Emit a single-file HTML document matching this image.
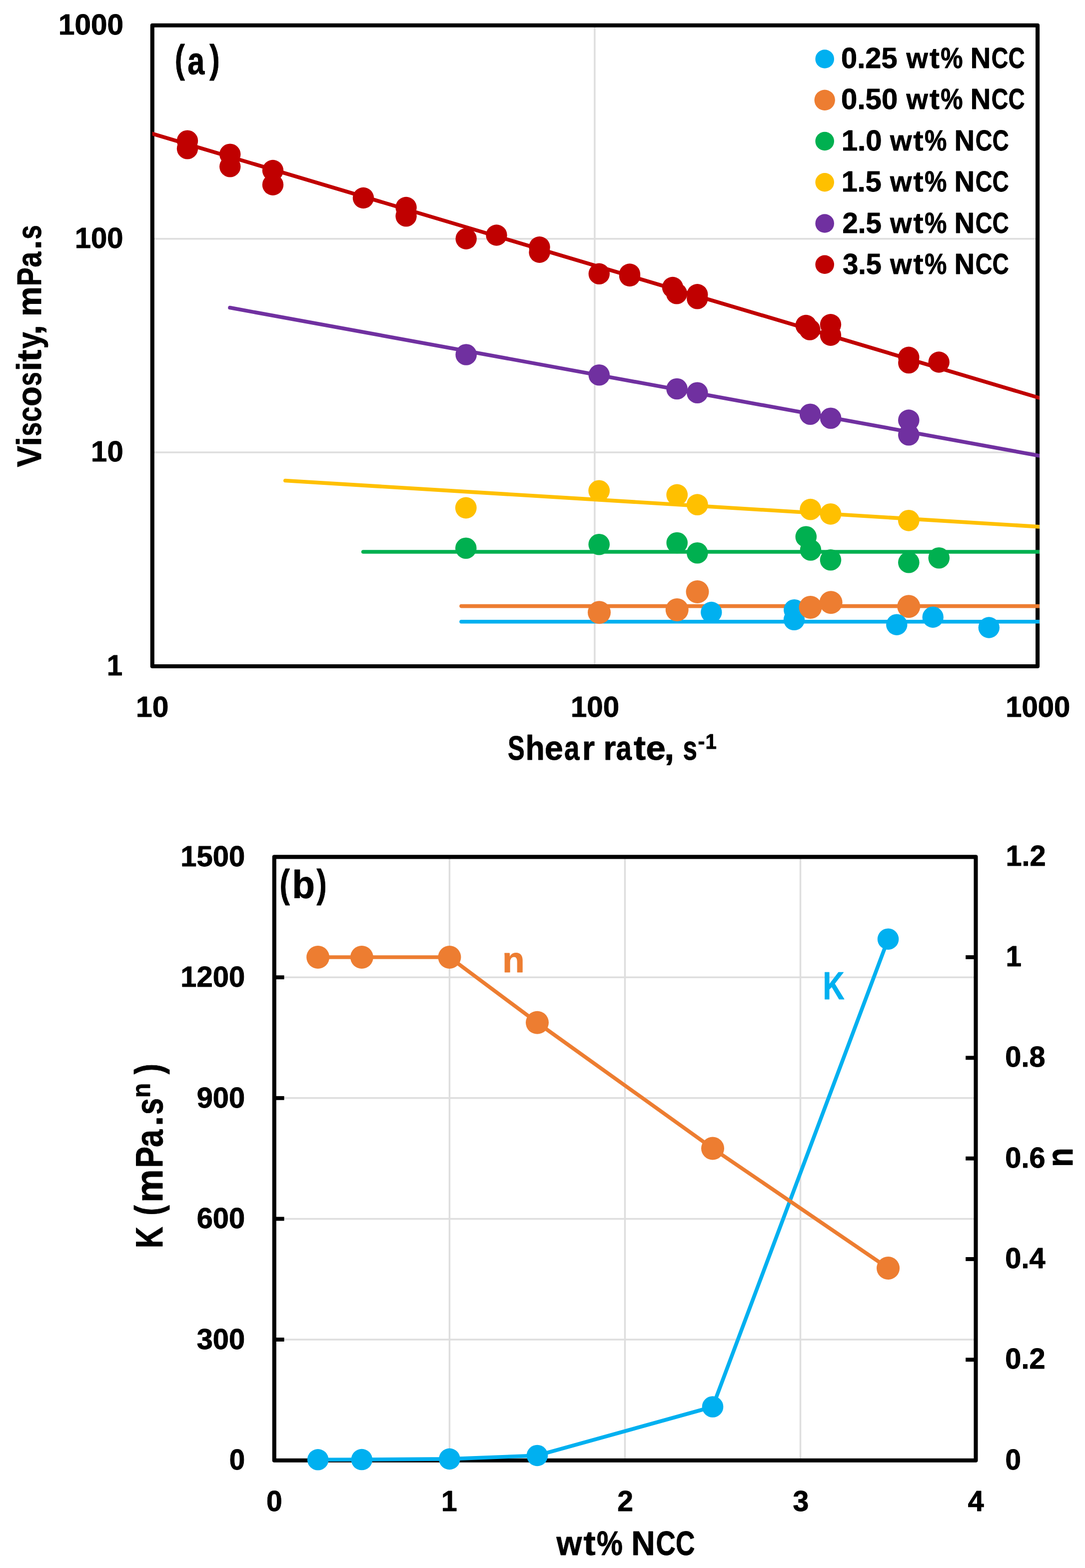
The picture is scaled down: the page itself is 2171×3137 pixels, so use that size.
<!DOCTYPE html>
<html lang="en">
<head>
<meta charset="utf-8">
<title>Figure</title>
<style>
html,body{margin:0;padding:0;background:#fff;}
body{width:2171px;height:3137px;overflow:hidden;}
svg{display:block;}
text{font-family:"Liberation Sans", sans-serif;font-weight:bold;white-space:pre;stroke-width:0.9px;stroke-linejoin:round;}
</style>
</head>
<body>
<svg width="2171" height="3137" viewBox="0 0 2171 3137">
<rect width="2171" height="3137" fill="#fff"/>
<defs><clipPath id="clipA"><rect x="304.8" y="0" width="1775.1" height="1400"/></clipPath></defs>
<g id="chart-a">
<g stroke="#DEDEDE" stroke-width="3.5" fill="none">
<line x1="1189.9" y1="50.8" x2="1189.9" y2="1333"/>
<line x1="304.8" y1="477.8" x2="2076.1" y2="477.8"/>
<line x1="304.8" y1="905" x2="2076.1" y2="905"/>
</g>
<rect x="304.8" y="50.8" width="1771.3" height="1282.2" fill="none" stroke="#000" stroke-width="8.1" stroke-linejoin="round"/>
<g fill="none" stroke-width="7.6" stroke-linecap="round" clip-path="url(#clipA)">
<line x1="923" y1="1243.7" x2="2088.1" y2="1243.7" stroke="#00B0F0"/>
<line x1="923" y1="1212.6" x2="2088.1" y2="1212.6" stroke="#ED7D31"/>
<line x1="726.7" y1="1104" x2="2088.1" y2="1104" stroke="#00B050"/>
<line x1="570.8" y1="961.5" x2="2088.1" y2="1054.33" stroke="#FFC000"/>
<line x1="460" y1="615.6" x2="2088.1" y2="913.29" stroke="#7030A0"/>
<line x1="292.8" y1="263.93" x2="2088.1" y2="798.57" stroke="#C00000"/>
</g>
<g fill="#00B0F0"><circle cx="1589.3" cy="1220.2" r="21.2"/><circle cx="1589" cy="1239.9" r="21.2"/></g>
<g fill="#ED7D31"><circle cx="1199" cy="1225.2" r="23"/><circle cx="1354.7" cy="1220" r="23"/><circle cx="1395.5" cy="1184" r="23"/><circle cx="1621.6" cy="1215" r="23"/><circle cx="1662.6" cy="1205.2" r="23"/><circle cx="1818.3" cy="1213.3" r="23"/></g>
<g fill="#00B0F0"><circle cx="1423.3" cy="1225" r="21.2"/><circle cx="1794.3" cy="1249.7" r="21.2"/><circle cx="1866.7" cy="1234.7" r="21.2"/><circle cx="1978.8" cy="1255.5" r="21.2"/></g>
<g fill="#00B050"><circle cx="932.3" cy="1096.7" r="21.3"/><circle cx="1198.7" cy="1089.2" r="21.3"/><circle cx="1354.7" cy="1086" r="21.3"/><circle cx="1395.3" cy="1106.3" r="21.3"/><circle cx="1612.8" cy="1073.8" r="21.3"/><circle cx="1622" cy="1100.5" r="21.3"/><circle cx="1662" cy="1120.3" r="21.3"/><circle cx="1818.3" cy="1125.3" r="21.3"/><circle cx="1878.8" cy="1116.3" r="21.3"/></g>
<g fill="#FFC000"><circle cx="932.3" cy="1016" r="21.4"/><circle cx="1198.7" cy="981.8" r="21.4"/><circle cx="1354.7" cy="990" r="21.4"/><circle cx="1395.3" cy="1009.7" r="21.4"/><circle cx="1621.7" cy="1019.2" r="21.4"/><circle cx="1662" cy="1028.3" r="21.4"/><circle cx="1818.3" cy="1041.3" r="21.4"/></g>
<g fill="#7030A0"><circle cx="932.7" cy="709.5" r="21.3"/><circle cx="1198.8" cy="750.3" r="21.3"/><circle cx="1354.5" cy="778" r="21.3"/><circle cx="1395.3" cy="785.8" r="21.3"/><circle cx="1621.2" cy="828.7" r="21.3"/><circle cx="1662.2" cy="836.7" r="21.3"/><circle cx="1818.3" cy="840.6" r="21.3"/><circle cx="1818.3" cy="870.2" r="21.3"/></g>
<g fill="#C00000"><circle cx="375" cy="281.7" r="21.2"/><circle cx="375" cy="297.3" r="21.2"/><circle cx="460.3" cy="308.7" r="21.2"/><circle cx="460.3" cy="333.3" r="21.2"/><circle cx="546" cy="341" r="21.2"/><circle cx="546" cy="369.7" r="21.2"/><circle cx="727" cy="396" r="21.2"/><circle cx="812.6" cy="415" r="21.2"/><circle cx="812.6" cy="432.3" r="21.2"/><circle cx="932.7" cy="477.7" r="21.2"/><circle cx="993.5" cy="470.5" r="21.2"/><circle cx="1079.5" cy="494.3" r="21.2"/><circle cx="1079.5" cy="504.7" r="21.2"/><circle cx="1198.8" cy="547.8" r="21.2"/><circle cx="1260" cy="548.5" r="21.2"/><circle cx="1260" cy="552" r="21.2"/><circle cx="1346" cy="575" r="21.2"/><circle cx="1354" cy="587.3" r="21.2"/><circle cx="1395.3" cy="589.3" r="21.2"/><circle cx="1395.3" cy="597.3" r="21.2"/><circle cx="1612.7" cy="651" r="21.2"/><circle cx="1620.3" cy="659.6" r="21.2"/><circle cx="1662" cy="649.3" r="21.2"/><circle cx="1662" cy="670.7" r="21.2"/><circle cx="1818.3" cy="714.8" r="21.2"/><circle cx="1818.3" cy="726.1" r="21.2"/><circle cx="1878.7" cy="724.5" r="21.2"/></g>
<circle cx="1650.2" cy="118" r="18.8" fill="#00B0F0"/>
<text fill="#000" stroke="#000"><tspan x="1683.14" y="135.75" font-size="56.67" textLength="112.38" lengthAdjust="spacingAndGlyphs">0.25</tspan> <tspan x="1813.49" y="135.75" font-size="56.67" textLength="43.33" lengthAdjust="spacingAndGlyphs">w</tspan><tspan x="1860" y="135.75" font-size="56.67" textLength="19.87" lengthAdjust="spacingAndGlyphs">t</tspan><tspan x="1882.34" y="135.75" font-size="56.67" textLength="44.28" lengthAdjust="spacingAndGlyphs">%</tspan> <tspan x="1941.74" y="135.75" font-size="56.67" textLength="40.43" lengthAdjust="spacingAndGlyphs">N</tspan><tspan x="1983.87" y="135.75" font-size="56.67" textLength="33.53" lengthAdjust="spacingAndGlyphs">C</tspan><tspan x="2017.71" y="135.75" font-size="56.67" textLength="32.78" lengthAdjust="spacingAndGlyphs">C</tspan></text>
<circle cx="1650.2" cy="200.25" r="20.7" fill="#ED7D31"/>
<text fill="#000" stroke="#000"><tspan x="1683.13" y="218.25" font-size="56.67" textLength="113.13" lengthAdjust="spacingAndGlyphs">0.50</tspan> <tspan x="1813.49" y="218.25" font-size="56.67" textLength="43.33" lengthAdjust="spacingAndGlyphs">w</tspan><tspan x="1860" y="218.25" font-size="56.67" textLength="19.87" lengthAdjust="spacingAndGlyphs">t</tspan><tspan x="1882.34" y="218.25" font-size="56.67" textLength="44.28" lengthAdjust="spacingAndGlyphs">%</tspan> <tspan x="1941.74" y="218.25" font-size="56.67" textLength="40.43" lengthAdjust="spacingAndGlyphs">N</tspan><tspan x="1983.87" y="218.25" font-size="56.67" textLength="33.53" lengthAdjust="spacingAndGlyphs">C</tspan><tspan x="2017.71" y="218.25" font-size="56.67" textLength="32.78" lengthAdjust="spacingAndGlyphs">C</tspan></text>
<circle cx="1650.2" cy="282.5" r="18.8" fill="#00B050"/>
<text fill="#000" stroke="#000"><tspan x="1683.82" y="300.75" font-size="56.67" textLength="80.77" lengthAdjust="spacingAndGlyphs">1.0</tspan> <tspan x="1780.89" y="300.75" font-size="56.67" textLength="43.48" lengthAdjust="spacingAndGlyphs">w</tspan><tspan x="1827.59" y="300.75" font-size="56.67" textLength="19.87" lengthAdjust="spacingAndGlyphs">t</tspan><tspan x="1849.97" y="300.75" font-size="56.67" textLength="44.43" lengthAdjust="spacingAndGlyphs">%</tspan> <tspan x="1909.58" y="300.75" font-size="56.67" textLength="40.57" lengthAdjust="spacingAndGlyphs">N</tspan><tspan x="1951.85" y="300.75" font-size="56.67" textLength="33.65" lengthAdjust="spacingAndGlyphs">C</tspan><tspan x="1985.8" y="300.75" font-size="56.67" textLength="32.89" lengthAdjust="spacingAndGlyphs">C</tspan></text>
<circle cx="1650.2" cy="364.75" r="18.8" fill="#FFC000"/>
<text fill="#000" stroke="#000"><tspan x="1683.85" y="383.25" font-size="56.67" textLength="79.99" lengthAdjust="spacingAndGlyphs">1.5</tspan> <tspan x="1780.89" y="383.25" font-size="56.67" textLength="43.48" lengthAdjust="spacingAndGlyphs">w</tspan><tspan x="1827.59" y="383.25" font-size="56.67" textLength="19.87" lengthAdjust="spacingAndGlyphs">t</tspan><tspan x="1849.97" y="383.25" font-size="56.67" textLength="44.43" lengthAdjust="spacingAndGlyphs">%</tspan> <tspan x="1909.58" y="383.25" font-size="56.67" textLength="40.57" lengthAdjust="spacingAndGlyphs">N</tspan><tspan x="1951.85" y="383.25" font-size="56.67" textLength="33.65" lengthAdjust="spacingAndGlyphs">C</tspan><tspan x="1985.8" y="383.25" font-size="56.67" textLength="32.89" lengthAdjust="spacingAndGlyphs">C</tspan></text>
<circle cx="1650.2" cy="447" r="18.8" fill="#7030A0"/>
<text fill="#000" stroke="#000"><tspan x="1685.48" y="465.75" font-size="56.67" textLength="78.33" lengthAdjust="spacingAndGlyphs">2.5</tspan> <tspan x="1780.89" y="465.75" font-size="56.67" textLength="43.48" lengthAdjust="spacingAndGlyphs">w</tspan><tspan x="1827.59" y="465.75" font-size="56.67" textLength="19.87" lengthAdjust="spacingAndGlyphs">t</tspan><tspan x="1849.97" y="465.75" font-size="56.67" textLength="44.43" lengthAdjust="spacingAndGlyphs">%</tspan> <tspan x="1909.58" y="465.75" font-size="56.67" textLength="40.57" lengthAdjust="spacingAndGlyphs">N</tspan><tspan x="1951.85" y="465.75" font-size="56.67" textLength="33.65" lengthAdjust="spacingAndGlyphs">C</tspan><tspan x="1985.8" y="465.75" font-size="56.67" textLength="32.89" lengthAdjust="spacingAndGlyphs">C</tspan></text>
<circle cx="1650.2" cy="529.25" r="18.8" fill="#C00000"/>
<text fill="#000" stroke="#000"><tspan x="1686.19" y="548.25" font-size="56.67" textLength="77.6" lengthAdjust="spacingAndGlyphs">3.5</tspan> <tspan x="1780.89" y="548.25" font-size="56.67" textLength="43.48" lengthAdjust="spacingAndGlyphs">w</tspan><tspan x="1827.59" y="548.25" font-size="56.67" textLength="19.87" lengthAdjust="spacingAndGlyphs">t</tspan><tspan x="1849.97" y="548.25" font-size="56.67" textLength="44.43" lengthAdjust="spacingAndGlyphs">%</tspan> <tspan x="1909.58" y="548.25" font-size="56.67" textLength="40.57" lengthAdjust="spacingAndGlyphs">N</tspan><tspan x="1951.85" y="548.25" font-size="56.67" textLength="33.65" lengthAdjust="spacingAndGlyphs">C</tspan><tspan x="1985.8" y="548.25" font-size="56.67" textLength="32.89" lengthAdjust="spacingAndGlyphs">C</tspan></text>
<text fill="#000" stroke="#000"><tspan x="349.73" y="144.95" font-size="77.67" textLength="20.1" lengthAdjust="spacingAndGlyphs">(</tspan><tspan x="375.31" y="147.75" font-size="76.38" textLength="34.05" lengthAdjust="spacingAndGlyphs">a</tspan><tspan x="419.3" y="144.95" font-size="77.67" textLength="20.58" lengthAdjust="spacingAndGlyphs">)</tspan></text>
<text fill="#000" stroke="#000"><tspan x="117.1" y="68.75" font-size="56.67" textLength="130.02" lengthAdjust="spacingAndGlyphs">1000</tspan></text>
<text fill="#000" stroke="#000"><tspan x="149.82" y="495.85" font-size="56.67" textLength="96.81" lengthAdjust="spacingAndGlyphs">100</tspan></text>
<text fill="#000" stroke="#000"><tspan x="182.12" y="923.45" font-size="56.67" textLength="64.59" lengthAdjust="spacingAndGlyphs">10</tspan></text>
<text fill="#000" stroke="#000"><tspan x="213.82" y="1351.15" font-size="56.67" textLength="31.46" lengthAdjust="spacingAndGlyphs">1</tspan></text>
<text fill="#000" stroke="#000"><tspan x="271.98" y="1433.75" font-size="56.67" textLength="65.36" lengthAdjust="spacingAndGlyphs">10</tspan></text>
<text fill="#000" stroke="#000"><tspan x="1141.91" y="1433.75" font-size="56.67" textLength="97.23" lengthAdjust="spacingAndGlyphs">100</tspan></text>
<text fill="#000" stroke="#000"><tspan x="2012.22" y="1433.75" font-size="56.67" textLength="129.18" lengthAdjust="spacingAndGlyphs">1000</tspan></text>
<text transform="rotate(-90)" fill="#000" stroke="#000"><tspan x="-934.43" y="81.65" font-size="68.88" textLength="42.63" lengthAdjust="spacingAndGlyphs">V</tspan><tspan x="-893.09" y="81.65" font-size="68.88" textLength="19.6" lengthAdjust="spacingAndGlyphs">i</tspan><tspan x="-872.73" y="81.65" font-size="68.88" textLength="28.08" lengthAdjust="spacingAndGlyphs">s</tspan><tspan x="-844.04" y="81.65" font-size="68.88" textLength="30.46" lengthAdjust="spacingAndGlyphs">c</tspan><tspan x="-813.06" y="81.65" font-size="68.88" textLength="39.92" lengthAdjust="spacingAndGlyphs">o</tspan><tspan x="-772.18" y="81.65" font-size="68.88" textLength="28.08" lengthAdjust="spacingAndGlyphs">s</tspan><tspan x="-742.69" y="81.65" font-size="68.88" textLength="19.6" lengthAdjust="spacingAndGlyphs">i</tspan><tspan x="-723.65" y="81.65" font-size="68.88" textLength="24.13" lengthAdjust="spacingAndGlyphs">t</tspan><tspan x="-697.5" y="81.65" font-size="68.88" textLength="33.11" lengthAdjust="spacingAndGlyphs">y</tspan><tspan x="-670.07" y="81.65" font-size="68.88" textLength="20.18" lengthAdjust="spacingAndGlyphs">,</tspan> <tspan x="-633.16" y="81.65" font-size="68.88" textLength="60.29" lengthAdjust="spacingAndGlyphs">m</tspan><tspan x="-572.44" y="81.65" font-size="68.88" textLength="37.42" lengthAdjust="spacingAndGlyphs">P</tspan><tspan x="-534.63" y="81.65" font-size="68.88" textLength="31.12" lengthAdjust="spacingAndGlyphs">a</tspan><tspan x="-499.24" y="81.65" font-size="68.88" textLength="18.91" lengthAdjust="spacingAndGlyphs">.</tspan><tspan x="-478.96" y="81.65" font-size="68.88" textLength="28.74" lengthAdjust="spacingAndGlyphs">s</tspan></text>
<text fill="#000" stroke="#000"><tspan x="1016.12" y="1520.15" font-size="68.88" textLength="33.73" lengthAdjust="spacingAndGlyphs">S</tspan><tspan x="1051.56" y="1520.15" font-size="68.88" textLength="38.31" lengthAdjust="spacingAndGlyphs">h</tspan><tspan x="1089.78" y="1520.15" font-size="68.88" textLength="37.12" lengthAdjust="spacingAndGlyphs">e</tspan><tspan x="1129" y="1520.15" font-size="68.88" textLength="30.5" lengthAdjust="spacingAndGlyphs">a</tspan><tspan x="1164.71" y="1520.15" font-size="68.88" textLength="25.36" lengthAdjust="spacingAndGlyphs">r</tspan> <tspan x="1207.5" y="1520.15" font-size="68.88" textLength="24.86" lengthAdjust="spacingAndGlyphs">r</tspan><tspan x="1232.56" y="1520.15" font-size="68.88" textLength="31.33" lengthAdjust="spacingAndGlyphs">a</tspan><tspan x="1268" y="1520.15" font-size="68.88" textLength="24.13" lengthAdjust="spacingAndGlyphs">t</tspan><tspan x="1292.29" y="1520.15" font-size="68.88" textLength="39.77" lengthAdjust="spacingAndGlyphs">e</tspan><tspan x="1329.03" y="1520.15" font-size="68.88" textLength="20.18" lengthAdjust="spacingAndGlyphs">,</tspan> <tspan x="1366.46" y="1520.15" font-size="68.88" textLength="28.5" lengthAdjust="spacingAndGlyphs">s</tspan><tspan x="1396.47" y="1498.05" font-size="42.38" textLength="13.98" lengthAdjust="spacingAndGlyphs">-</tspan><tspan x="1411.44" y="1498.05" font-size="42.38" textLength="22.37" lengthAdjust="spacingAndGlyphs">1</tspan></text>
</g>
<g id="chart-b">
<g stroke="#DEDEDE" stroke-width="3.5" fill="none">
<line x1="899.45" y1="1714.4" x2="899.45" y2="2921.7"/>
<line x1="1250.5" y1="1714.4" x2="1250.5" y2="2921.7"/>
<line x1="1601.55" y1="1714.4" x2="1601.55" y2="2921.7"/>
<line x1="548.8" y1="2680.02" x2="1952.5" y2="2680.02"/>
<line x1="548.8" y1="2438.44" x2="1952.5" y2="2438.44"/>
<line x1="548.8" y1="2196.86" x2="1952.5" y2="2196.86"/>
<line x1="548.8" y1="1955.28" x2="1952.5" y2="1955.28"/>
</g>
<rect x="548.8" y="1714.4" width="1403.7" height="1207.3" fill="none" stroke="#000" stroke-width="8.1" stroke-linejoin="round"/>
<g stroke="#000" stroke-width="7.9" fill="none">
<line x1="548.8" y1="2680.02" x2="568.6" y2="2680.02"/>
<line x1="548.8" y1="2438.44" x2="568.6" y2="2438.44"/>
<line x1="548.8" y1="2196.86" x2="568.6" y2="2196.86"/>
<line x1="548.8" y1="1955.28" x2="568.6" y2="1955.28"/>
<line x1="1932.2" y1="2720.28" x2="1952.5" y2="2720.28"/>
<line x1="1932.2" y1="2518.97" x2="1952.5" y2="2518.97"/>
<line x1="1932.2" y1="2317.65" x2="1952.5" y2="2317.65"/>
<line x1="1932.2" y1="2116.33" x2="1952.5" y2="2116.33"/>
<line x1="1932.2" y1="1915.02" x2="1952.5" y2="1915.02"/>
</g>
<polyline fill="none" stroke="#00B0F0" stroke-width="7.6" stroke-linejoin="round" stroke-linecap="round" points="636.16,2920.31 723.92,2920.07 899.45,2918.86 1074.97,2911.94 1426.03,2814.5 1777.07,1878.78"/>
<g fill="#00B0F0"><circle cx="636.16" cy="2920.31" r="21.3"/><circle cx="723.92" cy="2920.07" r="21.3"/><circle cx="899.45" cy="2918.86" r="21.3"/><circle cx="1074.97" cy="2911.94" r="21.3"/><circle cx="1426.03" cy="2814.5" r="21.3"/><circle cx="1777.07" cy="1878.78" r="21.3"/></g>
<polyline fill="none" stroke="#ED7D31" stroke-width="7.6" stroke-linejoin="round" stroke-linecap="round" points="636.16,1915.02 723.92,1915.02 899.45,1915.02 1074.97,2045.87 1426.03,2297.52 1777.07,2537.09"/>
<g fill="#ED7D31"><circle cx="636.16" cy="1915.02" r="23"/><circle cx="723.92" cy="1915.02" r="23"/><circle cx="899.45" cy="1915.02" r="23"/><circle cx="1074.97" cy="2045.87" r="23"/><circle cx="1426.03" cy="2297.52" r="23"/><circle cx="1777.07" cy="2537.09" r="23"/></g>
<text fill="#000" stroke="#000"><tspan x="559.4" y="1795.25" font-size="77.67" textLength="20.34" lengthAdjust="spacingAndGlyphs">(</tspan><tspan x="584.51" y="1797.25" font-size="77.88" textLength="45.48" lengthAdjust="spacingAndGlyphs">b</tspan><tspan x="633.4" y="1795.25" font-size="77.67" textLength="20.22" lengthAdjust="spacingAndGlyphs">)</tspan></text>
<text fill="#ED7D31" stroke="#ED7D31"><tspan x="1004.99" y="1944.75" font-size="72.38" textLength="44.71" lengthAdjust="spacingAndGlyphs">n</tspan></text>
<text fill="#00B0F0" stroke="#00B0F0"><tspan x="1646.51" y="1998.65" font-size="78.58" textLength="43.22" lengthAdjust="spacingAndGlyphs">K</tspan></text>
<text fill="#000" stroke="#000"><tspan x="458.66" y="2940.45" font-size="56.67" textLength="31.41" lengthAdjust="spacingAndGlyphs">0</tspan></text>
<text fill="#000" stroke="#000"><tspan x="393.65" y="2698.87" font-size="56.67" textLength="96.47" lengthAdjust="spacingAndGlyphs">300</tspan></text>
<text fill="#000" stroke="#000"><tspan x="393.66" y="2457.29" font-size="56.67" textLength="96.46" lengthAdjust="spacingAndGlyphs">600</tspan></text>
<text fill="#000" stroke="#000"><tspan x="393.66" y="2215.71" font-size="56.67" textLength="96.46" lengthAdjust="spacingAndGlyphs">900</tspan></text>
<text fill="#000" stroke="#000"><tspan x="361.27" y="1974.13" font-size="56.67" textLength="128.93" lengthAdjust="spacingAndGlyphs">1200</tspan></text>
<text fill="#000" stroke="#000"><tspan x="361.27" y="1732.55" font-size="56.67" textLength="128.93" lengthAdjust="spacingAndGlyphs">1500</tspan></text>
<text fill="#000" stroke="#000"><tspan x="2011.39" y="2939.55" font-size="56.67" textLength="31.41" lengthAdjust="spacingAndGlyphs">0</tspan></text>
<text fill="#000" stroke="#000"><tspan x="2011.34" y="2738.23" font-size="56.67" textLength="80.2" lengthAdjust="spacingAndGlyphs">0.2</tspan></text>
<text fill="#000" stroke="#000"><tspan x="2011.34" y="2536.92" font-size="56.67" textLength="80.23" lengthAdjust="spacingAndGlyphs">0.4</tspan></text>
<text fill="#000" stroke="#000"><tspan x="2011.34" y="2335.6" font-size="56.67" textLength="80.21" lengthAdjust="spacingAndGlyphs">0.6</tspan></text>
<text fill="#000" stroke="#000"><tspan x="2011.34" y="2134.28" font-size="56.67" textLength="80.21" lengthAdjust="spacingAndGlyphs">0.8</tspan></text>
<text fill="#000" stroke="#000"><tspan x="2012.52" y="1932.97" font-size="56.67" textLength="31.39" lengthAdjust="spacingAndGlyphs">1</tspan></text>
<text fill="#000" stroke="#000"><tspan x="2012.45" y="1731.65" font-size="56.67" textLength="80.19" lengthAdjust="spacingAndGlyphs">1.2</tspan></text>
<text fill="#000" stroke="#000"><tspan x="532.97" y="3023.35" font-size="56.67" textLength="31.74" lengthAdjust="spacingAndGlyphs">0</tspan></text>
<text fill="#000" stroke="#000"><tspan x="883.03" y="3023.35" font-size="56.67" textLength="31.71" lengthAdjust="spacingAndGlyphs">1</tspan></text>
<text fill="#000" stroke="#000"><tspan x="1235.2" y="3023.35" font-size="56.67" textLength="31.75" lengthAdjust="spacingAndGlyphs">2</tspan></text>
<text fill="#000" stroke="#000"><tspan x="1586.45" y="3023.35" font-size="56.67" textLength="31.78" lengthAdjust="spacingAndGlyphs">3</tspan></text>
<text fill="#000" stroke="#000"><tspan x="1936.82" y="3023.35" font-size="56.67" textLength="31.85" lengthAdjust="spacingAndGlyphs">4</tspan></text>
<text fill="#000" stroke="#000"><tspan x="1113.41" y="3110.75" font-size="68.88" textLength="50.8" lengthAdjust="spacingAndGlyphs">w</tspan><tspan x="1167.4" y="3110.75" font-size="68.88" textLength="24.13" lengthAdjust="spacingAndGlyphs">t</tspan><tspan x="1193.89" y="3110.75" font-size="68.88" textLength="51.92" lengthAdjust="spacingAndGlyphs">%</tspan> <tspan x="1263.32" y="3110.75" font-size="68.88" textLength="47.45" lengthAdjust="spacingAndGlyphs">N</tspan><tspan x="1312.57" y="3110.75" font-size="68.88" textLength="39.36" lengthAdjust="spacingAndGlyphs">C</tspan><tspan x="1352.12" y="3110.75" font-size="68.88" textLength="38.48" lengthAdjust="spacingAndGlyphs">C</tspan></text>
<text transform="rotate(-90)" fill="#000" stroke="#000"><tspan x="-2497.18" y="325.25" font-size="76.38" textLength="43.11" lengthAdjust="spacingAndGlyphs">K</tspan> <tspan x="-2431.74" y="323.05" font-size="76.38" textLength="20.58" lengthAdjust="spacingAndGlyphs">(</tspan><tspan x="-2405.93" y="325.25" font-size="76.38" textLength="66.82" lengthAdjust="spacingAndGlyphs">m</tspan><tspan x="-2336.46" y="325.25" font-size="76.38" textLength="42.62" lengthAdjust="spacingAndGlyphs">P</tspan><tspan x="-2295.04" y="325.25" font-size="76.38" textLength="35.09" lengthAdjust="spacingAndGlyphs">a</tspan><tspan x="-2252.98" y="325.25" font-size="76.38" textLength="20.28" lengthAdjust="spacingAndGlyphs">.</tspan><tspan x="-2230.03" y="325.25" font-size="76.38" textLength="33.02" lengthAdjust="spacingAndGlyphs">s</tspan><tspan x="-2196.37" y="300.35" font-size="51.17" textLength="29.35" lengthAdjust="spacingAndGlyphs">n</tspan><tspan x="-2149.21" y="323.05" font-size="76.38" textLength="21.29" lengthAdjust="spacingAndGlyphs">)</tspan></text>
<text transform="rotate(-90)" fill="#000" stroke="#000"><tspan x="-2334.99" y="2145.65" font-size="74.88" textLength="38.92" lengthAdjust="spacingAndGlyphs">n</tspan></text>
</g>
</svg>
</body>
</html>
